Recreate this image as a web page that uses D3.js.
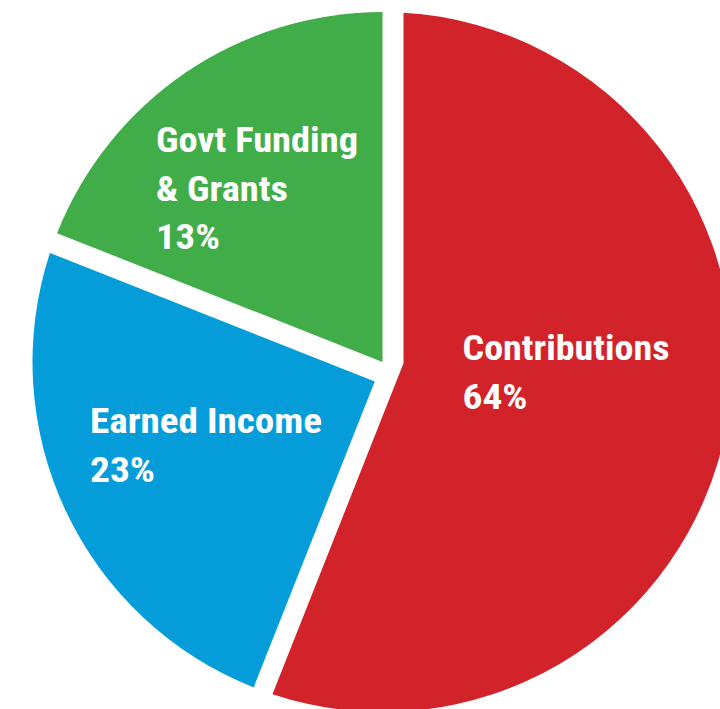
<!DOCTYPE html>
<html>
<head>
<meta charset="utf-8">
<script src="https://cdn.jsdelivr.net/npm/d3@7/dist/d3.min.js"></script>
<style>
  html, body { margin: 0; padding: 0; background: #ffffff; }
  svg { display: block; }
  .lbl { font-family: "Liberation Sans Narrow", "Roboto Condensed", "Arial Narrow", Roboto, "Liberation Sans", sans-serif; font-weight: bold; fill: #ffffff; }
</style>
</head>
<body>
<div id="chart"></div>
<script>
// ---- data ----
const categories = ["Contributions", "Earned Income", "Govt Funding & Grants"];
const labelLines = [["Contributions"], ["Earned Income"], ["Govt Funding", "& Grants"]];
const percentLabels = ["64%", "23%", "13%"];
// slice sizes as drawn in the picture (share of the circle)
const shares = [56, 25, 19];
const colors = ["#D2232A", "#049DD9", "#41AD49"];

// ---- layout ----
const W = 720, H = 709;
const cx = 382.5, cy = 362, R = 350;
// white gap cut into each slice at its start / end edge (px)
const insetStart = [21, 0, 0];
const insetEnd = [20, 21, 0];
// label anchor offsets from the centre, text metrics
const labelPos = [[80, -2], [-292.5, 71], [-226.5, -210]];
const labelWidths = [[207], [232], [202, 132]];
const pctWidths = [65, 65, 64];
const fontSize = 34.5, lineH = 48.5;

const svg = d3.select("#chart").append("svg")
  .attr("width", W).attr("height", H)
  .attr("viewBox", `0 0 ${W} ${H}`);

const pie = d3.pie().sort(null).value(d => d.share).startAngle(0).endAngle(2 * Math.PI);
const data = categories.map((c, i) => ({ name: c, share: shares[i], i }));
const arcs = pie(data);

const u = a => [Math.sin(a), -Math.cos(a)];       // ray direction (clockwise from up)
const perp = a => [Math.cos(a), Math.sin(a)];     // clockwise normal

function slicePath(d) {
  const i = d.data.i;
  const a0 = d.startAngle, a1 = d.endAngle;
  const s0 = insetStart[i], s1 = insetEnd[i];
  const u0 = u(a0), u1 = u(a1), n0 = perp(a0), n1 = perp(a1);
  const P0 = [cx + s0 * n0[0], cy + s0 * n0[1]];
  const P1 = [cx - s1 * n1[0], cy - s1 * n1[1]];
  // intersection of line P0 + t*u0 and P1 + s*u1
  const det = u0[0] * (-u1[1]) - u0[1] * (-u1[0]);
  const rx = P1[0] - P0[0], ry = P1[1] - P0[1];
  const t = (rx * (-u1[1]) - ry * (-u1[0])) / det;
  const V = [P0[0] + t * u0[0], P0[1] + t * u0[1]];
  const th0 = a0 + Math.asin(s0 / R), th1 = a1 - Math.asin(s1 / R);
  const p = d3.path();
  p.moveTo(V[0], V[1]);
  p.lineTo(cx + R * Math.sin(th0), cy - R * Math.cos(th0));
  p.arc(cx, cy, R, th0 - Math.PI / 2, th1 - Math.PI / 2, false);
  p.closePath();
  return p.toString();
}

svg.append("g").selectAll("path")
  .data(arcs)
  .join("path")
  .attr("d", slicePath)
  .attr("fill", d => colors[d.data.i]);

const lg = svg.append("g");
arcs.forEach(d => {
  const i = d.data.i;
  const x0 = cx + labelPos[i][0];
  const y0 = cy + labelPos[i][1];
  const lines = labelLines[i].concat([percentLabels[i]]);
  const widths = labelWidths[i].concat([pctWidths[i]]);
  lines.forEach((txt, k) => {
    lg.append("text")
      .attr("class", "lbl")
      .attr("x", x0)
      .attr("y", y0 + k * lineH)
      .attr("font-size", fontSize)
      .attr("textLength", widths[k])
      .attr("lengthAdjust", "spacingAndGlyphs")
      .text(txt);
  });
});
</script>
</body>
</html>
